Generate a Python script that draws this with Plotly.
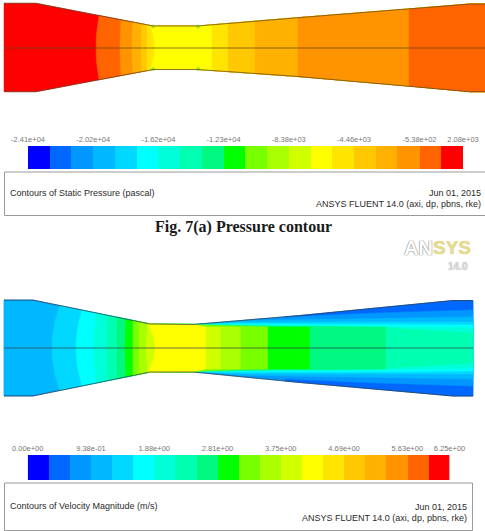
import numpy as np
import plotly.graph_objects as go

W, H = 485, 531

# Fluent's 20-band rainbow, lowest level first
palette = ["#0000ff", "#0068ff", "#0098ff", "#00b8ff", "#00d8ff",
           "#00ffff", "#00ffd8", "#00ffb0", "#00f880", "#00ff00",
           "#78ff00", "#a8ff00", "#d0ff00", "#ffff00", "#ffe400",
           "#ffc800", "#ffb000", "#ff9400", "#ff6400", "#ff0000"]

# Legend levels (21 edges for 20 bands) and the labels printed on them
pressure_levels = [-24100, -22792, -21484, -20176, -18868, -17560, -16252,
                   -14944, -13636, -12328, -11020, -9712, -8404, -7096,
                   -5788, -4480, -3172, -1864, -538, 770, 2080]
pressure_ticks = [-24100, -20176, -16252, -12328, -8404, -4480, -538, 2080]
pressure_labels = ["-2.41e+04", "-2.02e+04", "-1.62e+04", "-1.23e+04",
                   "-8.38e+03", "-4.46e+03", "-5.38e+02", "2.08e+03"]

velocity_levels = [0, 0.3125, 0.625, 0.9375, 1.25, 1.5625, 1.875, 2.1875,
                   2.5, 2.8125, 3.125, 3.4375, 3.75, 4.0625, 4.375, 4.6875,
                   5.0, 5.3125, 5.625, 5.9375, 6.25]
velocity_ticks = [0, 0.9375, 1.875, 2.8125, 3.75, 4.6875, 5.625, 6.25]
velocity_labels = ["0.00e+00", "9.38e-01", "1.88e+00", "2.81e+00",
                   "3.75e+00", "4.69e+00", "5.63e+00", "6.25e+00"]

# Nozzle wall profiles: axial station, upper and lower radius
pressure_wall_x = [4, 36, 153, 198, 298, 409, 470, 485]
pressure_wall_up = [44.7, 44.7, 22, 22, 30.3, 38.7, 44, 44]
pressure_wall_lo = [43.7, 43.7, 21.5, 21.5, 28.5, 38, 43.7, 43.7]

velocity_wall_x = [4, 33, 150, 193, 300, 453, 473]
velocity_wall_up = [48, 48, 24, 23.5, 32.5, 47.5, 47.5]
velocity_wall_lo = [48, 48, 24, 24, 34.5, 48, 48]

# Pressure contour bands: level, start on the axis, shift of the edge at the wall
pressure_band_level = [19, 18, 17, 16, 15, 14, 13, 14, 15, 16, 17, 18]
pressure_band_start = [4, 96, 120, 132, 141, 147, 155, 212, 228, 255, 298, 409]
pressure_band_shift = [0, 3, 1, 1, 1, 0, -5, 0, 0, 0, 0, 0]
pressure_corner_x = [153, 153, 198, 198]
pressure_corner_r = [21.5, -21, 21.5, -21]

# Velocity contour bands, painted in order: level, start, end, wall shift,
# and an optional radius limit given at stations along the axis
velocity_bands = [
    (2, 4, 473, 0, None, None),
    (3, 4, 473, 0, [4, 33, 60, 200], [46.8, 46.8, 41.5, 24]),
    (1, 285, 473, 0, None, None),
    (2, 245, 473, 0, [245, 300, 380, 473], [28.3, 31.5, 35, 38]),
    (3, 205, 473, 0, [205, 240, 300, 380, 473], [24.3, 27.3, 28, 29.5, 31]),
    (4, 198, 473, 0, [198, 240, 300, 380, 473], [24, 25.5, 26, 26, 26]),
    (5, 195, 473, 0, [195, 240, 300, 380, 473], [23.7, 24.2, 24, 24, 23]),
    (6, 193, 473, 0, [193, 240, 300, 380, 473], [23.5, 23.2, 22.5, 22, 20]),
    (8, 193, 386, 0, [193, 240, 300, 386], [23.5, 22.4, 21.5, 20.7]),
    (10, 190, 270, 0, [190, 240, 270], [23.5, 21.6, 21]),
    (4, 52, 195, 8, None, None),
    (5, 76, 195, 6, None, None),
    (6, 94, 195, 2, None, None),
    (7, 107, 195, 1, None, None),
    (8, 117, 195, 0, None, None),
    (9, 125, 195, 1, None, None),
    (10, 133, 195, 0, None, None),
    (11, 139, 195, 0, None, None),
    (12, 146, 195, 2, None, None),
    (13, 155, 206, -7, [148, 193, 206], [28, 23.5, 21]),
    (12, 206, 221, 0, [206, 221], [21, 21]),
    (11, 221, 241, 0, [221, 241], [21, 21]),
    (10, 241, 268, 0, [241, 268], [21, 21]),
    (9, 268, 310, 0, [268, 310], [21, 21]),
    (8, 310, 386, 0, [310, 386], [21, 20.7]),
    (7, 386, 473, 0, [386, 473], [20, 15]),
]


def region(x0, x1, shift, wall_x, wall_up, wall_lo, cap_x=None, cap_r=None):
    """Outline of a band bounded by the wall, a curved left edge and a radius limit."""
    def up(x):
        r = np.interp(x, wall_x, wall_up)
        return np.minimum(r, np.interp(x, cap_x, cap_r)) if cap_x else r

    def lo(x):
        r = np.interp(x, wall_x, wall_lo)
        return np.minimum(r, np.interp(x, cap_x, cap_r)) if cap_x else r

    corner = x0 + shift
    t = np.linspace(-1, 1, 15)
    edge_x = x0 + shift * t ** 2
    edge_r = np.where(t > 0, t * up(corner), t * lo(corner))
    stations = sorted(set(list(wall_x) + list(cap_x or []) + [corner, x1]))
    stations = np.array([s for s in stations if corner <= s <= x1])
    xs = np.concatenate([edge_x, stations, stations[::-1]])
    rs = np.concatenate([edge_r, up(stations), -lo(stations[::-1])])
    return xs, rs


def fill_trace(xs, rs, level, xa, ya):
    color = palette[level]
    return go.Scatter(x=xs, y=rs, mode="lines", fill="toself", fillcolor=color,
                      line=dict(color=color, width=0.5), hoverinfo="skip",
                      showlegend=False, xaxis=xa, yaxis=ya)


def outline_traces(wall_x, wall_up, wall_lo, color, xa, ya):
    out = []
    for r in (wall_up, [-v for v in wall_lo]):
        out.append(go.Scatter(x=wall_x, y=r, mode="lines", hoverinfo="skip",
                              line=dict(color=color, width=1), showlegend=False,
                              xaxis=xa, yaxis=ya))
    out.append(go.Scatter(x=[wall_x[0], wall_x[-1]], y=[0, 0], mode="lines",
                          hoverinfo="skip", line=dict(color=color, width=1),
                          showlegend=False, xaxis=xa, yaxis=ya))
    return out


def legend_bar(levels, xa, ya):
    scale = []
    for i in range(20):
        scale += [[i / 20, palette[i]], [(i + 1) / 20, palette[i]]]
    return go.Heatmap(x=levels, y=[0, 1], z=[list(range(20))], zmin=-0.5, zmax=19.5,
                      colorscale=scale, showscale=False,
                      hoverinfo="skip", xaxis=xa, yaxis=ya)


fig = go.Figure()

# Static pressure field
for lvl, start, shift in zip(pressure_band_level, pressure_band_start, pressure_band_shift):
    xs, rs = region(start, pressure_wall_x[-1], shift, pressure_wall_x,
                    pressure_wall_up, pressure_wall_lo)
    fig.add_trace(fill_trace(xs, rs, lvl, "x", "y"))
fig.add_trace(go.Scatter(x=pressure_corner_x, y=pressure_corner_r, mode="markers",
                         marker=dict(size=4, color="rgba(150,225,40,0.8)"),
                         hoverinfo="skip", showlegend=False, xaxis="x", yaxis="y"))
for t in outline_traces(pressure_wall_x, pressure_wall_up, pressure_wall_lo,
                        "rgba(90,65,30,0.7)", "x", "y"):
    fig.add_trace(t)

# Velocity magnitude field
for lvl, start, end, shift, cap_x, cap_r in velocity_bands:
    xs, rs = region(start, end, shift, velocity_wall_x, velocity_wall_up,
                    velocity_wall_lo, cap_x, cap_r)
    fig.add_trace(fill_trace(xs, rs, lvl, "x3", "y3"))
for t in outline_traces(velocity_wall_x, velocity_wall_up, velocity_wall_lo,
                        "rgba(50,60,70,0.7)", "x3", "y3"):
    fig.add_trace(t)

# Legend colour bars
fig.add_trace(legend_bar(pressure_levels, "x2", "y2"))
fig.add_trace(legend_bar(velocity_levels, "x4", "y4"))


def py(v):
    return 1 - v / H


def px(v):
    return v / W


hidden = dict(visible=False, fixedrange=True, automargin=False)
tick_font = dict(family="Liberation Sans, Arial, sans-serif", size=7.5, color="#777777")


def bar_x_axis(left, right, levels, ticks, labels, anchor):
    return dict(domain=[px(left), px(right)], range=[levels[0], levels[-1]], side="top",
                anchor=anchor, tickmode="array", tickvals=ticks, ticktext=labels,
                ticks="", showgrid=False, zeroline=False, showline=False, automargin=False,
                tickfont=tick_font, tickangle=0, fixedrange=True, ticklabelstandoff=2)


fig.update_layout(
    width=W, height=H, margin=dict(l=0, r=0, t=0, b=0, pad=0, autoexpand=False),
    paper_bgcolor="white", plot_bgcolor="white", showlegend=False,
    xaxis=dict(domain=[0, 1], range=[0, W], anchor="y", **hidden),
    yaxis=dict(domain=[py(96), py(0)], range=[-48, 48], anchor="x", **hidden),
    xaxis2=bar_x_axis(28, 463, pressure_levels, pressure_ticks, pressure_labels, "y2"),
    yaxis2=dict(domain=[py(169), py(146)], range=[0, 1], anchor="x2", **hidden),
    xaxis3=dict(domain=[0, 1], range=[0, W], anchor="y3", **hidden),
    yaxis3=dict(domain=[py(400), py(296)], range=[-52, 52], anchor="x3", **hidden),
    xaxis4=bar_x_axis(27.7, 449.5, velocity_levels, velocity_ticks, velocity_labels, "y4"),
    yaxis4=dict(domain=[py(480), py(455)], range=[0, 1], anchor="x4", **hidden),
)

# Title boxes under each legend
box_line = dict(color="#9a9a9a", width=1)
fig.add_shape(type="rect", xref="paper", yref="paper", x0=px(4.5), x1=px(487),
              y0=py(215.5), y1=py(172), line=box_line, fillcolor="white", layer="below")
fig.add_shape(type="rect", xref="paper", yref="paper", x0=px(4.5), x1=px(472.5),
              y0=py(530.5), y1=py(483), line=box_line, fillcolor="white", layer="below")


def label(x, y, text, anchor="left", size=9, color="#2a2a2a",
          family="Liberation Sans, Arial, sans-serif", **font_extra):
    fig.add_annotation(xref="paper", yref="paper", x=px(x), y=py(y), text=text,
                       xanchor=anchor, yanchor="middle", showarrow=False,
                       font=dict(family=family, size=size, color=color, **font_extra),
                       borderpad=0, borderwidth=0)


label(9.5, 193, "Contours of Static Pressure (pascal)")
label(480.5, 193, "Jun 01, 2015", "right")
label(480.5, 203.5, "ANSYS FLUENT 14.0 (axi, dp, pbns, rke)", "right")

label(9.5, 506, "Contours of Velocity Magnitude (m/s)")
label(466.5, 506.5, "Jun 01, 2015", "right")
label(466.5, 517.5, "ANSYS FLUENT 14.0 (axi, dp, pbns, rke)", "right")

label(243, 226.5, "Fig. 7(a) Pressure contour", "center", size=16, color="#1a1a1a",
      family="Liberation Serif, Times New Roman, serif", weight="bold")

# Vendor mark
mark = "Liberation Sans, sans-serif"
label(433, 247.5, "AN", "right", size=20, color="white", family=mark, weight="bold",
      shadow="0 0 1px #8f8f8f, 0 0 1px #8f8f8f, 0 0 1px #8f8f8f")
label(432.5, 247.5, "SYS", "left", size=19, color="#e6dc8c", family=mark, weight="bold",
      shadow="0 0 1px #c9c39a")
label(468, 266, "14.0", "right", size=10, color="#dddddd", weight="bold",
      shadow="0 0 1px #999999")

fig.write_html("out.html", config=dict(displayModeBar=False, responsive=False))
